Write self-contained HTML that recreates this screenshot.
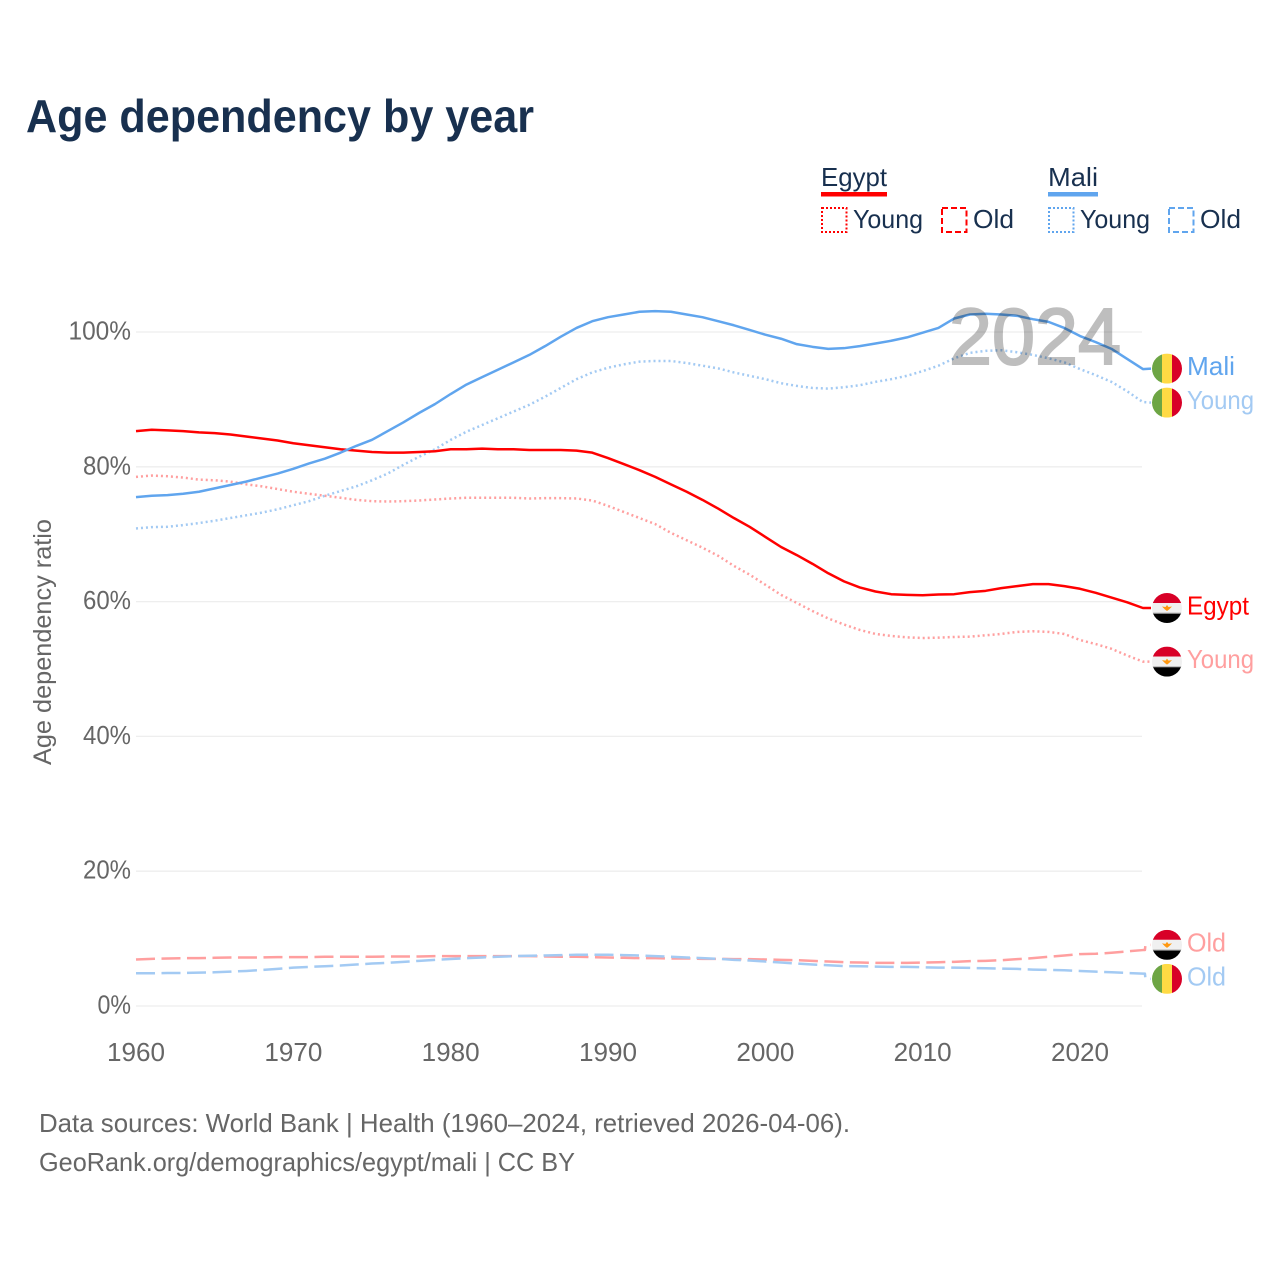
<!DOCTYPE html>
<html lang="en">
<head>
<meta charset="utf-8">
<title>Age dependency by year</title>
<style>
html,body{margin:0;padding:0;background:#fff;}
svg{display:block;}
text{font-family:"Liberation Sans",sans-serif;}
</style>
</head>
<body>
<svg id="chart" xmlns="http://www.w3.org/2000/svg" width="1280" height="1280" viewBox="0 0 1280 1280">
  <defs><clipPath id="flag-clip"><circle cx="0" cy="0" r="15"></circle></clipPath></defs>
  <rect x="0" y="0" width="1280" height="1280" fill="#fff"></rect>
  <text x="26" y="132" font-size="46" font-weight="700" fill="#18304f" textLength="508" lengthAdjust="spacingAndGlyphs">Age dependency by year</text>

  <g font-size="26" fill="#18304f">
    <text x="821" y="186" textLength="66" lengthAdjust="spacingAndGlyphs">Egypt</text>
    <rect x="821" y="192" width="66" height="4.5" fill="#ff0000"></rect>
    <rect x="822" y="208" width="24.5" height="24" fill="none" stroke="#ff0000" stroke-width="2" stroke-dasharray="2 2"></rect>
    <text x="853" y="228" textLength="70" lengthAdjust="spacingAndGlyphs">Young</text>
    <rect x="942" y="208" width="24.5" height="24" fill="none" stroke="#ff0000" stroke-width="2" stroke-dasharray="6 3"></rect>
    <text x="973" y="228" textLength="41" lengthAdjust="spacingAndGlyphs">Old</text>
    <text x="1048" y="186" textLength="50" lengthAdjust="spacingAndGlyphs">Mali</text>
    <rect x="1048" y="192" width="50" height="4.5" fill="#60a5ee"></rect>
    <rect x="1049" y="208" width="24.5" height="24" fill="none" stroke="#60a5ee" stroke-width="2" stroke-dasharray="2 2"></rect>
    <text x="1080" y="228" textLength="70" lengthAdjust="spacingAndGlyphs">Young</text>
    <rect x="1169" y="208" width="24.5" height="24" fill="none" stroke="#60a5ee" stroke-width="2" stroke-dasharray="6 3"></rect>
    <text x="1200" y="228" textLength="41" lengthAdjust="spacingAndGlyphs">Old</text>
  </g>

  <g id="grid"></g>
  <g id="y-ticks"></g>
  <g id="x-ticks"></g>
  <text transform="translate(51 642) rotate(-90)" text-anchor="middle" font-size="25" fill="#666" textLength="246" lengthAdjust="spacingAndGlyphs">Age dependency ratio</text>
  <g id="series"></g>
  <g id="end-labels"></g>
  <text id="year-watermark" x="949" y="364" font-size="80" fill="#000" stroke="#000" stroke-width="2" opacity="0.25" textLength="172" lengthAdjust="spacingAndGlyphs">2024</text>

  <text x="39" y="1132" font-size="26" fill="#666" textLength="811" lengthAdjust="spacingAndGlyphs">Data sources: World Bank | Health (1960–2024, retrieved 2026-04-06).</text>
  <text x="39" y="1171" font-size="26" fill="#666" textLength="536" lengthAdjust="spacingAndGlyphs">GeoRank.org/demographics/egypt/mali | CC BY</text>
</svg>
<script>
const startYear = 1960;
const xTickLabels = [1960, 1970, 1980, 1990, 2000, 2010, 2020];
const yTickLabels = [0, 20, 40, 60, 80, 100];
const latestYear = '2024';

const egyptTotal = [85.3,85.5,85.4,85.3,85.1,85.0,84.8,84.5,84.2,83.9,83.5,83.2,82.9,82.6,82.4,82.2,82.1,82.1,82.2,82.3,82.6,82.6,82.7,82.6,82.6,82.5,82.5,82.5,82.4,82.1,81.3,80.4,79.5,78.5,77.4,76.3,75.1,73.8,72.4,71.1,69.6,68.1,66.9,65.6,64.2,63.0,62.1,61.5,61.1,61.0,60.95,61.05,61.1,61.4,61.6,62.0,62.3,62.6,62.6,62.3,61.9,61.3,60.6,59.9,59.05];
const egyptYoung = [78.5,78.7,78.6,78.4,78.1,78.0,77.8,77.4,77.1,76.7,76.3,76.0,75.7,75.4,75.1,74.9,74.85,74.9,75.0,75.15,75.3,75.4,75.4,75.4,75.4,75.3,75.35,75.35,75.3,75.0,74.2,73.3,72.4,71.5,70.2,69.1,68.0,66.8,65.3,64.0,62.5,61.0,59.8,58.6,57.5,56.6,55.8,55.2,54.9,54.7,54.6,54.65,54.75,54.8,55.0,55.2,55.5,55.6,55.5,55.2,54.3,53.7,53.0,52.0,51.1];
const egyptOld = [6.9,7.0,7.05,7.1,7.1,7.15,7.2,7.2,7.2,7.25,7.25,7.25,7.3,7.3,7.3,7.3,7.35,7.35,7.35,7.4,7.4,7.4,7.4,7.4,7.4,7.4,7.35,7.3,7.3,7.25,7.2,7.15,7.1,7.1,7.05,7.05,7.0,7.0,6.95,6.95,6.9,6.85,6.8,6.7,6.6,6.5,6.45,6.4,6.4,6.4,6.45,6.5,6.55,6.65,6.7,6.8,6.95,7.1,7.3,7.5,7.7,7.75,7.9,8.1,8.3];
const maliTotal = [75.5,75.7,75.8,76.0,76.3,76.8,77.3,77.8,78.4,79.0,79.7,80.5,81.2,82.1,83.1,84.0,85.3,86.6,88.0,89.3,90.8,92.2,93.3,94.4,95.5,96.6,97.9,99.3,100.6,101.6,102.2,102.6,103.0,103.1,103.0,102.6,102.2,101.6,101.0,100.3,99.6,99.0,98.2,97.8,97.5,97.6,97.9,98.3,98.7,99.2,99.9,100.6,102.0,102.6,102.7,102.6,102.4,101.9,101.5,100.6,99.4,98.5,97.5,96.0,94.5];
const maliYoung = [70.85,71.05,71.1,71.35,71.65,72.0,72.4,72.8,73.2,73.7,74.3,74.9,75.7,76.4,77.1,78.0,79.0,80.3,81.5,82.6,84.0,85.2,86.2,87.2,88.2,89.2,90.4,91.7,93.0,94.0,94.7,95.2,95.6,95.7,95.7,95.4,95.0,94.6,94.0,93.5,93.0,92.4,92.0,91.7,91.6,91.8,92.1,92.6,93.0,93.5,94.2,95.0,96.1,96.9,97.2,97.3,97.0,96.6,96.1,95.5,94.5,93.6,92.6,91.2,89.6];
const maliOld = [4.85,4.85,4.9,4.9,4.95,5.0,5.1,5.2,5.35,5.5,5.7,5.8,5.9,6.0,6.15,6.3,6.4,6.55,6.7,6.85,6.97,7.1,7.2,7.3,7.4,7.45,7.5,7.55,7.6,7.6,7.6,7.55,7.5,7.4,7.3,7.2,7.1,7.0,6.85,6.75,6.6,6.45,6.3,6.15,6.05,5.93,5.9,5.85,5.8,5.8,5.75,5.7,5.7,5.65,5.6,5.55,5.5,5.4,5.35,5.3,5.2,5.1,5.0,4.9,4.8];

const svgNS = 'http://www.w3.org/2000/svg';
const xScale = function (year) { return 136 + (year - 1960) * 15.7333; };
const yScale = function (value) { return 1006 - value * 6.74; };
const gridLayer = document.getElementById('grid');
const yTickLayer = document.getElementById('y-ticks');
const xTickLayer = document.getElementById('x-ticks');
const seriesLayer = document.getElementById('series');
const labelLayer = document.getElementById('end-labels');

function make(tag, attrs, parent) {
  const node = document.createElementNS(svgNS, tag);
  Object.keys(attrs).forEach(function (k) { node.setAttribute(k, attrs[k]); });
  parent.appendChild(node);
  return node;
}

yTickLabels.forEach(function (v) {
  const line = make('line', {x1: 136, x2: 1142, y1: yScale(v), y2: yScale(v), stroke: '#eee', 'stroke-width': 1.3}, gridLayer);
  
  
  const tick = make('text', {x: 131, y: yScale(v) + 7.5, 'text-anchor': 'end', 'font-size': 25.5, fill: '#666', textLength: (String(v).length * 14.5 + 19), lengthAdjust: 'spacingAndGlyphs'}, yTickLayer);
  tick.textContent = v + '%';
  
  
});

xTickLabels.forEach(function (year) {
  const tick = make('text', {x: xScale(year), y: 1061, 'text-anchor': 'middle', 'font-size': 26, fill: '#666', textLength: 58, lengthAdjust: 'spacingAndGlyphs'}, xTickLayer);
  tick.textContent = year;
  
  
});

const seriesList = [
  {id: 'egypt-old', values: egyptOld, color: '#ff9f9f', dash: '19 6.5', label: 'Old', flag: 'egypt'},
  {id: 'mali-old', values: maliOld, color: '#a3caf3', dash: '19 6.5', label: 'Old', flag: 'mali'},
  {id: 'egypt-young', values: egyptYoung, color: '#ff9f9f', dash: '2 3', label: 'Young', flag: 'egypt'},
  {id: 'mali-young', values: maliYoung, color: '#a3caf3', dash: '2 3', label: 'Young', flag: 'mali'},
  {id: 'egypt-total', values: egyptTotal, color: '#ff0000', dash: '', label: 'Egypt', flag: 'egypt'},
  {id: 'mali-total', values: maliTotal, color: '#60a5ee', dash: '', label: 'Mali', flag: 'mali'}
];

const labelWidths = {Old: 39, Young: 67, Egypt: 62, Mali: 48};

// Spread the end labels so that neighbouring flags never overlap.
const minGap = 34;
const ordered = seriesList.slice().sort(function (a, b) { return a.values[a.values.length - 1] < b.values[b.values.length - 1] ? -1 : 1; });
ordered.forEach(function (s) { s.labelY = yScale(s.values[s.values.length - 1]); });
for (let i = 0; i < ordered.length - 1; i++) {
  const lower = ordered[i], upper = ordered[i + 1];
  const gap = lower.labelY - upper.labelY;
  if (gap < minGap) {
    const push = (minGap - gap) / 2;
    lower.labelY += push;
    upper.labelY -= push;
  }
}

function drawFlag(kind, cy, parent) {
  const g = make('g', {transform: 'translate(1167 ' + cy + ')', 'clip-path': 'url(#flag-clip)'}, parent);
  if (kind === 'mali') {
    make('rect', {x: -15, y: -15, width: 10, height: 30, fill: '#6da544'}, g);
    make('rect', {x: -5, y: -15, width: 10, height: 30, fill: '#ffda44'}, g);
    make('rect', {x: 5, y: -15, width: 10, height: 30, fill: '#d80027'}, g);
  } else {
    make('rect', {x: -15, y: -15, width: 30, height: 10, fill: '#d80027'}, g);
    make('rect', {x: -15, y: -5, width: 30, height: 10, fill: '#f0f0f0'}, g);
    make('rect', {x: -15, y: 5, width: 30, height: 10, fill: '#000'}, g);
    make('rect', {x: -15, y: 4.5, width: 30, height: 1.2, fill: '#bbb'}, g);
    make('polygon', {points: '-5,-1.5 -1.5,-1 0,-3 1.5,-1 5,-1.5 2,1.5 0,3 -2,1.5', fill: '#ff9811'}, g);
  }
  return g;
}

seriesList.forEach(function (s) {
  const pts = s.values.map(function (v, i) { return xScale(startYear + i).toFixed(2) + ' ' + yScale(v).toFixed(2); });
  const endX = xScale(startYear + s.values.length - 1);
  const endY = yScale(s.values[s.values.length - 1]);
  let d = 'M' + pts.join(' L');
  if (Math.abs(s.labelY - endY) > 2) {
    d += ' L' + (endX + 2).toFixed(2) + ' ' + endY.toFixed(2) + ' L' + (endX + 2.5).toFixed(2) + ' ' + s.labelY.toFixed(2);
  }
  d += ' L1151 ' + s.labelY.toFixed(2);
  const path = make('path', {d: d, fill: 'none', stroke: s.color, 'stroke-width': 2.5, 'stroke-linejoin': 'round'}, seriesLayer);
  if (s.dash) { path.setAttribute('stroke-dasharray', s.dash); }
  
  

  const flag = drawFlag(s.flag, s.labelY, labelLayer);
  
  

  const text = make('text', {x: 1187, y: s.labelY + 6.5, 'font-size': 26, fill: s.color, textLength: labelWidths[s.label], lengthAdjust: 'spacingAndGlyphs'}, labelLayer);
  text.textContent = s.label;
  
  
});

document.getElementById('year-watermark').textContent = latestYear;
</script>
</body>
</html>
